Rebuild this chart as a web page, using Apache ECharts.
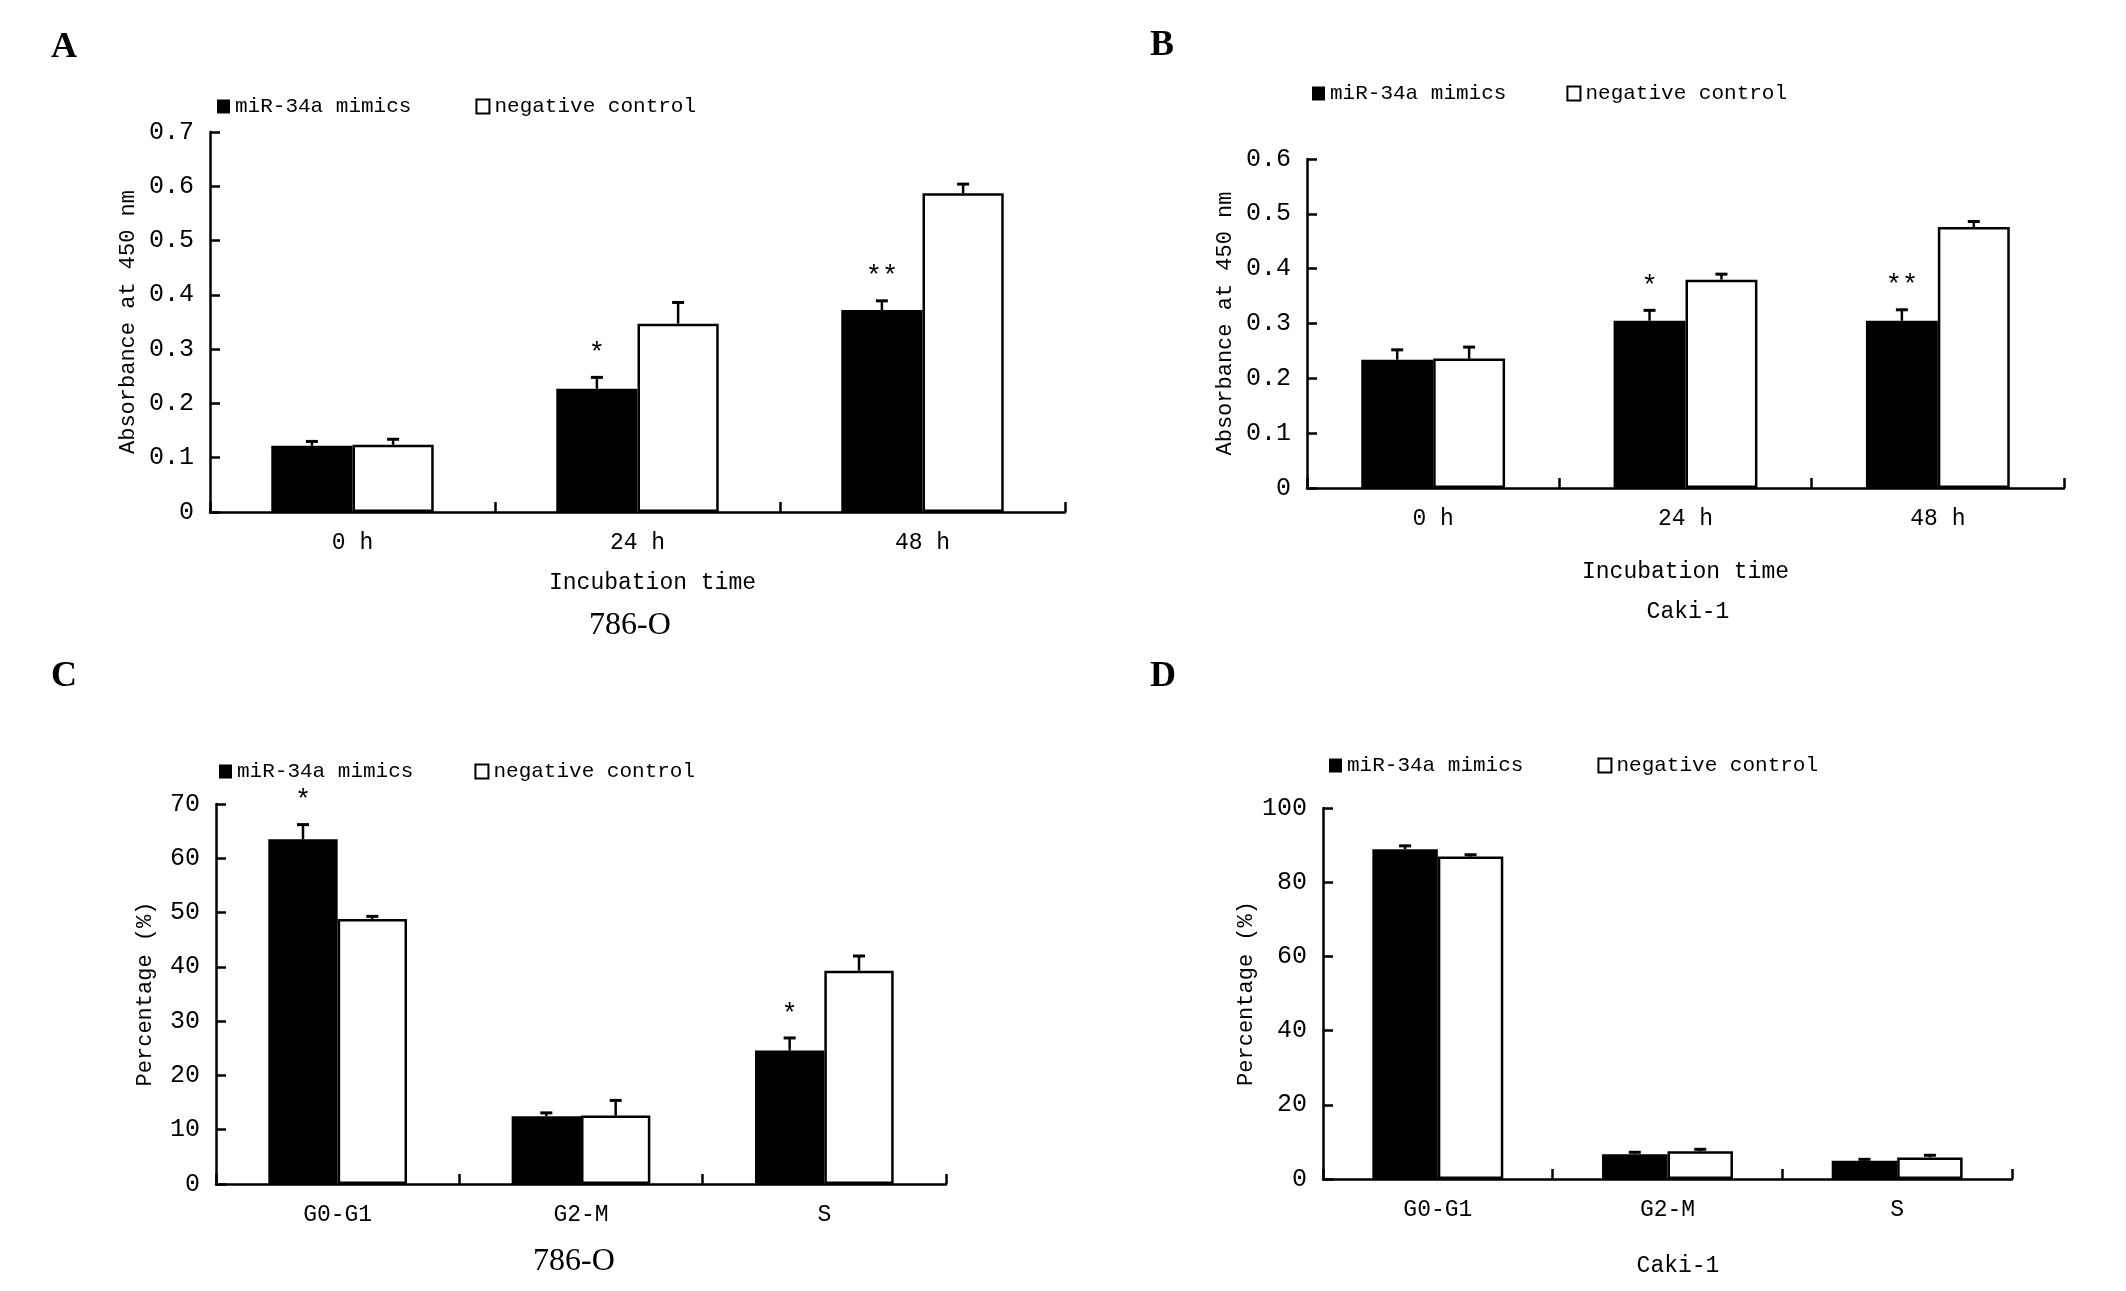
<!DOCTYPE html>
<html>
<head>
<meta charset="utf-8">
<script src="https://cdn.jsdelivr.net/npm/echarts@6/dist/echarts.min.js"></script>
<style>
  html, body { margin: 0; padding: 0; background: #fff; }
  #chart { width: 2126px; height: 1291px; }
</style>
</head>
<body>
<div id="chart"></div>
<script>
// categories
const timeCats = ['0 h', '24 h', '48 h'];
const phaseCats = ['G0-G1', 'G2-M', 'S'];
const seriesNames = ['miR-34a mimics', 'negative control'];

// A: 786-O absorbance
const absA_mimic = [0.122, 0.227, 0.372];
const absA_mimicErr = [0.008, 0.021, 0.017];
const absA_nc = [0.124, 0.347, 0.587];
const absA_ncErr = [0.010, 0.039, 0.017];
const sigA = ['', '*', '**'];

// B: Caki-1 absorbance
const absB_mimic = [0.234, 0.305, 0.305];
const absB_mimicErr = [0.018, 0.019, 0.020];
const absB_nc = [0.236, 0.380, 0.476];
const absB_ncErr = [0.021, 0.010, 0.010];
const sigB = ['', '*', '**'];

// C: 786-O cell cycle (%)
const pctC_mimic = [63.5, 12.5, 24.6];
const pctC_mimicErr = [2.7, 0.6, 2.3];
const pctC_nc = [48.8, 12.6, 39.3];
const pctC_ncErr = [0.5, 2.8, 2.7];
const sigC = ['*', '', '*'];

// D: Caki-1 cell cycle (%)
const pctD_mimic = [88.9, 6.7, 4.9];
const pctD_mimicErr = [0.9, 0.5, 0.4];
const pctD_nc = [86.9, 7.5, 5.8];
const pctD_ncErr = [0.5, 0.5, 0.6];
const sigD = ['', '', ''];

const MONO = 'Liberation Mono';
const SERIF = 'Liberation Serif';
const GAP = 0.43;
const LW = 2.5;

const chart = echarts.init(document.getElementById('chart'), null, { renderer: 'canvas' });

const panels = [
  { grid: { left: 210, top: 132, width: 855, height: 380 }, cats: timeCats, max: 0.7, interval: 0.1, dec: 1,
    yName: 'Absorbance at 450 nm', yGap: 71, xName: 'Incubation time', xGap: 59, xPad: [0, 0, 0, 30],
    legend: { left: 217, top: 96, gap: 64 },
    m: absA_mimic, mE: absA_mimicErr, n: absA_nc, nE: absA_ncErr, sig: sigA },
  { grid: { left: 1307, top: 159, width: 757, height: 329 }, cats: timeCats, max: 0.6, interval: 0.1, dec: 1,
    yName: 'Absorbance at 450 nm', yGap: 71, xName: 'Incubation time', xGap: 72, xPad: 0,
    legend: { left: 1312, top: 83, gap: 60 },
    m: absB_mimic, mE: absB_mimicErr, n: absB_nc, nE: absB_ncErr, sig: sigB },
  { grid: { left: 216, top: 804, width: 730, height: 380 }, cats: phaseCats, max: 70, interval: 10, dec: 0,
    yName: 'Percentage (%)', yGap: 60, xName: '', xGap: 0, xPad: 0,
    legend: { left: 219, top: 761, gap: 61 },
    m: pctC_mimic, mE: pctC_mimicErr, n: pctC_nc, nE: pctC_ncErr, sig: sigC },
  { grid: { left: 1323, top: 808, width: 689, height: 371 }, cats: phaseCats, max: 100, interval: 20, dec: 0,
    yName: 'Percentage (%)', yGap: 66, xName: '', xGap: 0, xPad: 0,
    legend: { left: 1329, top: 755, gap: 74 },
    m: pctD_mimic, mE: pctD_mimicErr, n: pctD_nc, nE: pctD_ncErr, sig: sigD }
];

const axisLine = { lineStyle: { color: '#000', width: LW } };

function errorSeries(idx, vals, errs, side, sigs) {
  return {
    type: 'custom',
    xAxisIndex: idx,
    yAxisIndex: idx,
    z: 5,
    silent: true,
    data: vals.map((v, i) => [i, v, errs[i]]),
    renderItem: (params, api) => {
      const i = api.value(0), v = api.value(1), e = api.value(2);
      const band = api.size([1, 0])[0];
      const bw = band * (1 - GAP) / 2;
      const base = api.coord([i, v]);
      const top = api.coord([i, v + e]);
      const x = base[0] + side * bw / 2;
      const children = [
        { type: 'line', shape: { x1: x, y1: base[1], x2: x, y2: top[1] },
          style: { stroke: '#000', lineWidth: LW } },
        { type: 'line', shape: { x1: x - 6, y1: top[1], x2: x + 6, y2: top[1] },
          style: { stroke: '#000', lineWidth: LW + 0.5 } }
      ];
      const s = sigs ? sigs[params.dataIndex] : '';
      if (s) {
        children.push({ type: 'text', x: x, y: top[1] - 10,
          style: { text: s, fill: '#000', font: '27px "' + MONO + '"', align: 'center', verticalAlign: 'bottom' } });
      }
      return { type: 'group', children };
    }
  };
}

const grids = [], xAxes = [], yAxes = [], legends = [], series = [];
panels.forEach((p, k) => {
  grids.push(Object.assign({ containLabel: false }, p.grid));
  xAxes.push({
    type: 'category', gridIndex: k, data: p.cats,
    axisLine: axisLine,
    axisTick: { show: true, inside: true, length: 10, lineStyle: { color: '#000', width: LW } },
    axisLabel: { color: '#000', fontFamily: MONO, fontSize: 23, margin: 19 },
    name: p.xName, nameLocation: 'middle', nameGap: p.xGap,
    nameTextStyle: { color: '#000', fontFamily: MONO, fontSize: 23, padding: p.xPad }
  });
  yAxes.push({
    type: 'value', gridIndex: k, min: 0, max: p.max, interval: p.interval,
    axisLine: { show: true, lineStyle: { color: '#000', width: LW } },
    axisTick: { show: true, inside: true, length: 10, lineStyle: { color: '#000', width: LW } },
    splitLine: { show: false },
    axisLabel: { color: '#000', fontFamily: MONO, fontSize: 25, margin: 16,
      formatter: v => v === 0 ? '0' : v.toFixed(p.dec) },
    name: p.yName, nameLocation: 'middle', nameRotate: 90, nameGap: p.yGap,
    nameTextStyle: { color: '#000', fontFamily: MONO, fontSize: 22 }
  });
  legends.push({
    left: p.legend.left, top: p.legend.top, padding: 0, itemGap: p.legend.gap,
    itemWidth: 13, itemHeight: 14, icon: 'rect', selectedMode: false,
    textStyle: { color: '#000', fontFamily: MONO, fontSize: 21 },
    data: [
      { name: seriesNames[0], itemStyle: { color: '#000', borderColor: '#000', borderWidth: 0 } },
      { name: seriesNames[1], itemStyle: { color: '#fff', borderColor: '#000', borderWidth: 2 } }
    ]
  });
  series.push({
    type: 'bar', name: seriesNames[0], xAxisIndex: k, yAxisIndex: k, data: p.m,
    barGap: '0%', barCategoryGap: (GAP * 100) + '%',
    itemStyle: { color: '#000', borderColor: '#000', borderWidth: LW }
  });
  series.push({
    type: 'bar', name: seriesNames[1], xAxisIndex: k, yAxisIndex: k, data: p.n,
    barGap: '0%', barCategoryGap: (GAP * 100) + '%',
    itemStyle: { color: '#fff', borderColor: '#000', borderWidth: LW }
  });
  series.push(errorSeries(k, p.m, p.mE, -1, p.sig));
  series.push(errorSeries(k, p.n, p.nE, 1, null));
});

function label(text, x, y, font) {
  return { type: 'text', x: x, y: y,
    style: { text: text, fill: '#000', font: font, align: 'center', verticalAlign: 'middle' } };
}

chart.setOption({
  backgroundColor: '#fff',
  animation: false,
  grid: grids,
  xAxis: xAxes,
  yAxis: yAxes,
  legend: legends,
  series: series,
  graphic: [
    label('A', 64, 48, 'bold 36px "' + SERIF + '"'),
    label('B', 1162, 46, 'bold 36px "' + SERIF + '"'),
    label('C', 64, 677, 'bold 36px "' + SERIF + '"'),
    label('D', 1163, 677, 'bold 36px "' + SERIF + '"'),
    label('786-O', 630, 626, '32px "' + SERIF + '"'),
    label('Caki-1', 1688, 612, '23px "' + MONO + '"'),
    label('786-O', 574, 1262, '32px "' + SERIF + '"'),
    label('Caki-1', 1678, 1266, '23px "' + MONO + '"')
  ]
});
</script>
</body>
</html>
